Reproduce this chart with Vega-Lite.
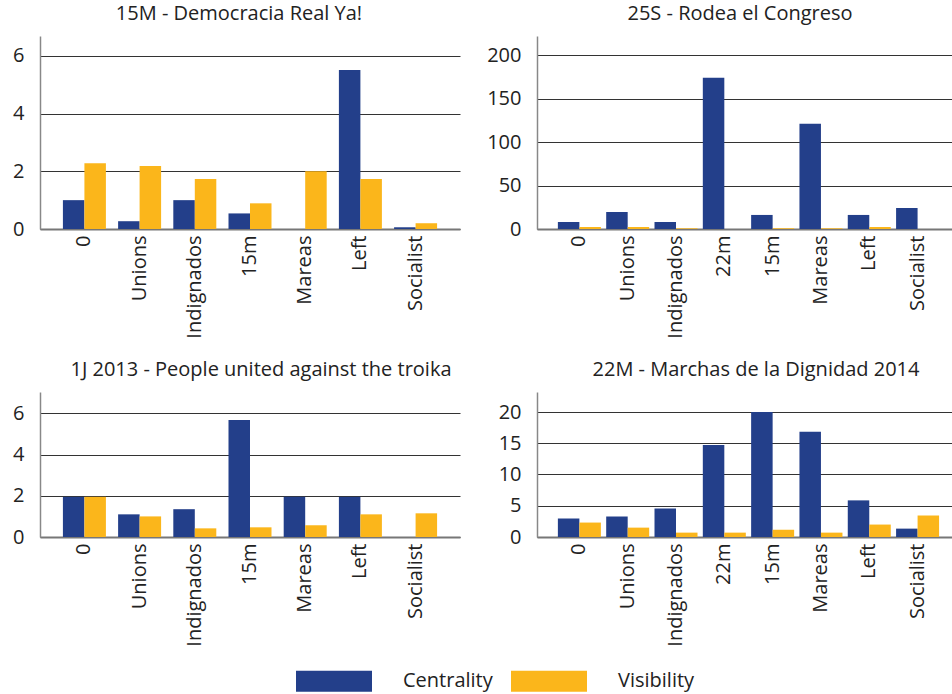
{
  "$schema": "https://vega.github.io/schema/vega-lite/v6.json",
  "padding": {"left": 12, "top": 4, "right": 0, "bottom": 0},
  "background": "white",
  "datasets": {
    "bars": [
      {"event": "15M", "category": "0", "metric": "Centrality", "value": 1.0},
      {"event": "15M", "category": "0", "metric": "Visibility", "value": 2.28},
      {"event": "15M", "category": "Unions", "metric": "Centrality", "value": 0.27},
      {"event": "15M", "category": "Unions", "metric": "Visibility", "value": 2.18},
      {"event": "15M", "category": "Indignados", "metric": "Centrality", "value": 1.0},
      {"event": "15M", "category": "Indignados", "metric": "Visibility", "value": 1.73},
      {"event": "15M", "category": "15m", "metric": "Centrality", "value": 0.54},
      {"event": "15M", "category": "15m", "metric": "Visibility", "value": 0.89},
      {"event": "15M", "category": "Mareas", "metric": "Centrality", "value": 0},
      {"event": "15M", "category": "Mareas", "metric": "Visibility", "value": 2.0},
      {"event": "15M", "category": "Left", "metric": "Centrality", "value": 5.51},
      {"event": "15M", "category": "Left", "metric": "Visibility", "value": 1.73},
      {"event": "15M", "category": "Socialist", "metric": "Centrality", "value": 0.06},
      {"event": "15M", "category": "Socialist", "metric": "Visibility", "value": 0.2},

      {"event": "25S", "category": "0", "metric": "Centrality", "value": 8.1},
      {"event": "25S", "category": "0", "metric": "Visibility", "value": 2.3},
      {"event": "25S", "category": "Unions", "metric": "Centrality", "value": 19.6},
      {"event": "25S", "category": "Unions", "metric": "Visibility", "value": 2.3},
      {"event": "25S", "category": "Indignados", "metric": "Centrality", "value": 8.1},
      {"event": "25S", "category": "Indignados", "metric": "Visibility", "value": 0.8},
      {"event": "25S", "category": "22m", "metric": "Centrality", "value": 174.2},
      {"event": "25S", "category": "22m", "metric": "Visibility", "value": 0},
      {"event": "25S", "category": "15m", "metric": "Centrality", "value": 16.2},
      {"event": "25S", "category": "15m", "metric": "Visibility", "value": 0.8},
      {"event": "25S", "category": "Mareas", "metric": "Centrality", "value": 121.2},
      {"event": "25S", "category": "Mareas", "metric": "Visibility", "value": 0.8},
      {"event": "25S", "category": "Left", "metric": "Centrality", "value": 16.2},
      {"event": "25S", "category": "Left", "metric": "Visibility", "value": 2.3},
      {"event": "25S", "category": "Socialist", "metric": "Centrality", "value": 24.2},
      {"event": "25S", "category": "Socialist", "metric": "Visibility", "value": 0},

      {"event": "1J", "category": "0", "metric": "Centrality", "value": 1.95},
      {"event": "1J", "category": "0", "metric": "Visibility", "value": 1.95},
      {"event": "1J", "category": "Unions", "metric": "Centrality", "value": 1.1},
      {"event": "1J", "category": "Unions", "metric": "Visibility", "value": 1.0},
      {"event": "1J", "category": "Indignados", "metric": "Centrality", "value": 1.35},
      {"event": "1J", "category": "Indignados", "metric": "Visibility", "value": 0.42},
      {"event": "1J", "category": "15m", "metric": "Centrality", "value": 5.68},
      {"event": "1J", "category": "15m", "metric": "Visibility", "value": 0.47},
      {"event": "1J", "category": "Mareas", "metric": "Centrality", "value": 1.95},
      {"event": "1J", "category": "Mareas", "metric": "Visibility", "value": 0.57},
      {"event": "1J", "category": "Left", "metric": "Centrality", "value": 1.95},
      {"event": "1J", "category": "Left", "metric": "Visibility", "value": 1.1},
      {"event": "1J", "category": "Socialist", "metric": "Centrality", "value": 0},
      {"event": "1J", "category": "Socialist", "metric": "Visibility", "value": 1.15},

      {"event": "22M", "category": "0", "metric": "Centrality", "value": 2.96},
      {"event": "22M", "category": "0", "metric": "Visibility", "value": 2.31},
      {"event": "22M", "category": "Unions", "metric": "Centrality", "value": 3.28},
      {"event": "22M", "category": "Unions", "metric": "Visibility", "value": 1.5},
      {"event": "22M", "category": "Indignados", "metric": "Centrality", "value": 4.57},
      {"event": "22M", "category": "Indignados", "metric": "Visibility", "value": 0.7},
      {"event": "22M", "category": "22m", "metric": "Centrality", "value": 14.73},
      {"event": "22M", "category": "22m", "metric": "Visibility", "value": 0.7},
      {"event": "22M", "category": "15m", "metric": "Centrality", "value": 20.0},
      {"event": "22M", "category": "15m", "metric": "Visibility", "value": 1.18},
      {"event": "22M", "category": "Mareas", "metric": "Centrality", "value": 16.83},
      {"event": "22M", "category": "Mareas", "metric": "Visibility", "value": 0.7},
      {"event": "22M", "category": "Left", "metric": "Centrality", "value": 5.86},
      {"event": "22M", "category": "Left", "metric": "Visibility", "value": 1.99},
      {"event": "22M", "category": "Socialist", "metric": "Centrality", "value": 1.34},
      {"event": "22M", "category": "Socialist", "metric": "Visibility", "value": 3.44}
    ]
  },
  "data": {"name": "bars"},
  "columns": 2,
  "spacing": {"row": 21, "column": 26},
  "concat": [
    {
      "title": {"text": "15M - Democracia Real Ya!", "dx": -11},
      "width": 420, "height": 193,
      "transform": [{"filter": "datum.event === '15M'"}],
      "mark": {"type": "bar"},
      "encoding": {
        "x": {"field": "category", "type": "nominal", "title": null,
              "sort": ["0", "Unions", "Indignados", "22m", "15m", "Mareas", "Left", "Socialist"],
              "scale": {"paddingInner": 0.221, "paddingOuter": 0.415}},
        "xOffset": {"field": "metric", "type": "nominal", "scale": {"paddingInner": 0, "paddingOuter": 0}},
        "y": {"field": "value", "type": "quantitative", "title": null,
              "scale": {"domain": [0, 6.69], "nice": false, "zero": true},
              "axis": {"values": [0, 2, 4, 6]}},
        "color": {"field": "metric", "type": "nominal", "title": null,
                  "scale": {"domain": ["Centrality", "Visibility"], "range": ["#233f8a", "#fbb61b"]},
                  "legend": {"orient": "none", "legendX": 256, "legendY": 607, "direction": "horizontal"}}
      }
    },
    {
      "title": {"text": "25S - Rodea el Congreso", "dx": -5},
      "width": 416, "height": 193,
      "transform": [{"filter": "datum.event === '25S'"}],
      "mark": {"type": "bar"},
      "encoding": {
        "x": {"field": "category", "type": "nominal", "title": null,
              "sort": ["0", "Unions", "Indignados", "22m", "15m", "Mareas", "Left", "Socialist"],
              "scale": {"paddingInner": 0.11, "paddingOuter": 0.36, "align": 0.6}},
        "xOffset": {"field": "metric", "type": "nominal", "scale": {"paddingInner": 0, "paddingOuter": 0}},
        "y": {"field": "value", "type": "quantitative", "title": null,
              "scale": {"domain": [0, 222.4], "nice": false, "zero": true},
              "axis": {"values": [0, 50, 100, 150, 200]}},
        "color": {"field": "metric", "type": "nominal", "title": null,
                  "scale": {"domain": ["Centrality", "Visibility"], "range": ["#233f8a", "#fbb61b"]}}
      }
    },
    {
      "title": {"text": "1J 2013 - People united against the troika", "dx": 11},
      "width": 420, "height": 145,
      "transform": [{"filter": "datum.event === '1J'"}],
      "mark": {"type": "bar"},
      "encoding": {
        "x": {"field": "category", "type": "nominal", "title": null,
              "sort": ["0", "Unions", "Indignados", "22m", "15m", "Mareas", "Left", "Socialist"],
              "scale": {"paddingInner": 0.221, "paddingOuter": 0.415}},
        "xOffset": {"field": "metric", "type": "nominal", "scale": {"paddingInner": 0, "paddingOuter": 0}},
        "y": {"field": "value", "type": "quantitative", "title": null,
              "scale": {"domain": [0, 7.04], "nice": false, "zero": true},
              "axis": {"values": [0, 2, 4, 6]}},
        "color": {"field": "metric", "type": "nominal", "title": null,
                  "scale": {"domain": ["Centrality", "Visibility"], "range": ["#233f8a", "#fbb61b"]}}
      }
    },
    {
      "title": {"text": "22M - Marchas de la Dignidad 2014", "dx": 11},
      "width": 416, "height": 145,
      "transform": [{"filter": "datum.event === '22M'"}],
      "mark": {"type": "bar"},
      "encoding": {
        "x": {"field": "category", "type": "nominal", "title": null,
              "sort": ["0", "Unions", "Indignados", "22m", "15m", "Mareas", "Left", "Socialist"],
              "scale": {"paddingInner": 0.11, "paddingOuter": 0.36, "align": 0.6}},
        "xOffset": {"field": "metric", "type": "nominal", "scale": {"paddingInner": 0, "paddingOuter": 0}},
        "y": {"field": "value", "type": "quantitative", "title": null,
              "scale": {"domain": [0, 23.2], "nice": false, "zero": true},
              "axis": {"values": [0, 5, 10, 15, 20]}},
        "color": {"field": "metric", "type": "nominal", "title": null,
                  "scale": {"domain": ["Centrality", "Visibility"], "range": ["#233f8a", "#fbb61b"]}}
      }
    }
  ],
  "config": {
    "font": "Open Sans",
    "view": {"stroke": null},
    "title": {"font": "Open Sans", "fontSize": 20, "fontWeight": "normal", "color": "#222222",
              "anchor": "middle", "frame": "group", "baseline": "alphabetic", "offset": 12},
    "axis": {"labelFont": "Open Sans", "labelFontSize": 20, "labelColor": "#222222", "ticks": false},
    "axisX": {"labelAngle": -90, "labelPadding": 6, "domainColor": "#777777", "domainWidth": 2, "grid": false},
    "axisY": {"labelPadding": 16, "domainColor": "#888888", "domainWidth": 1.5, "grid": true,
              "gridColor": "#333333", "gridWidth": 1},
    "legend": {"labelFont": "Open Sans", "labelFontSize": 20, "labelColor": "#222222",
               "symbolType": "M-1,-0.276H1V0.276H-1Z", "symbolSize": 5776, "symbolStrokeWidth": 0,
               "symbolOpacity": 1, "labelOffset": 31, "columnPadding": 18, "padding": 0}
  }
}
